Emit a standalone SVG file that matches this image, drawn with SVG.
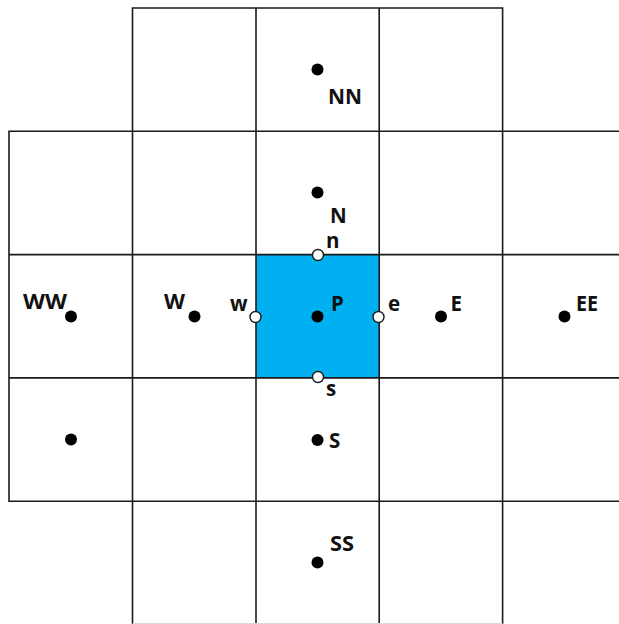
<svg xmlns="http://www.w3.org/2000/svg" width="619" height="624" viewBox="0 0 619 624">
<style>
.grid{fill:none;stroke:#1a1a1a;stroke-width:1.6}
.dot{fill:#000}
.face{fill:#fff;stroke:#1a1a1a;stroke-width:1.4}
.lbl{font-family:"Open Sans","Noto Sans","Liberation Sans",sans-serif;font-weight:700;font-size:20.5px;fill:#111}
</style>
<rect width="619" height="624" fill="#fff"/>
<g id="cellP"><rect x="256" y="254.6" width="123.2" height="123.3" fill="#00b0f0"/></g>
<g id="connectors">
<path class="grid" d="M132.5,626 V8 H502.6 V626"/>
<path class="grid" d="M256,8 V626 M379.2,8 V626"/>
<path class="grid" d="M626,131.3 H9 V501.2 H626"/>
<path class="grid" d="M9,254.6 H626 M9,377.9 H626"/>
<path d="M132.5,623.5 H502.6" stroke="#d8d8d8" stroke-width="1" fill="none"/>
</g>
<g id="NN"><circle class="dot" cx="317.5" cy="69.5" r="6"/><text class="lbl" x="328" y="104" textLength="34" lengthAdjust="spacingAndGlyphs">NN</text></g>
<g id="N"><circle class="dot" cx="317.5" cy="192.5" r="6"/><text class="lbl" x="330" y="223">N</text></g>
<g id="WW"><circle class="dot" cx="71" cy="316.5" r="6"/><text class="lbl" x="23" y="308.5" textLength="44" lengthAdjust="spacingAndGlyphs">WW</text></g>
<g id="W"><circle class="dot" cx="194.5" cy="316.5" r="6"/><text class="lbl" x="164" y="308.5" textLength="21" lengthAdjust="spacingAndGlyphs">W</text></g>
<g id="P"><circle class="dot" cx="317.5" cy="316.5" r="6"/><text class="lbl" x="331" y="311">P</text></g>
<g id="E"><circle class="dot" cx="441" cy="316.5" r="6"/><text class="lbl" x="450.5" y="310.5">E</text></g>
<g id="EE"><circle class="dot" cx="564.5" cy="316.5" r="6"/><text class="lbl" x="576" y="311" textLength="22" lengthAdjust="spacingAndGlyphs">EE</text></g>
<g id="SW"><circle class="dot" cx="71" cy="439.5" r="6"/></g>
<g id="S"><circle class="dot" cx="317.5" cy="440" r="6"/><text class="lbl" x="329" y="448">S</text></g>
<g id="SS"><circle class="dot" cx="317.5" cy="562.5" r="6"/><text class="lbl" x="330" y="551" textLength="24" lengthAdjust="spacingAndGlyphs">SS</text></g>
<g id="n"><circle class="face" cx="318" cy="255" r="5.5"/><text class="lbl" x="326" y="248">n</text></g>
<g id="w"><circle class="face" cx="255.5" cy="317" r="5.5"/><text class="lbl" x="230" y="311">w</text></g>
<g id="e"><circle class="face" cx="378.5" cy="317" r="5.5"/><text class="lbl" x="388" y="311">e</text></g>
<g id="s"><circle class="face" cx="318" cy="377" r="5.5"/><text class="lbl" x="326" y="396">s</text></g>
</svg>
